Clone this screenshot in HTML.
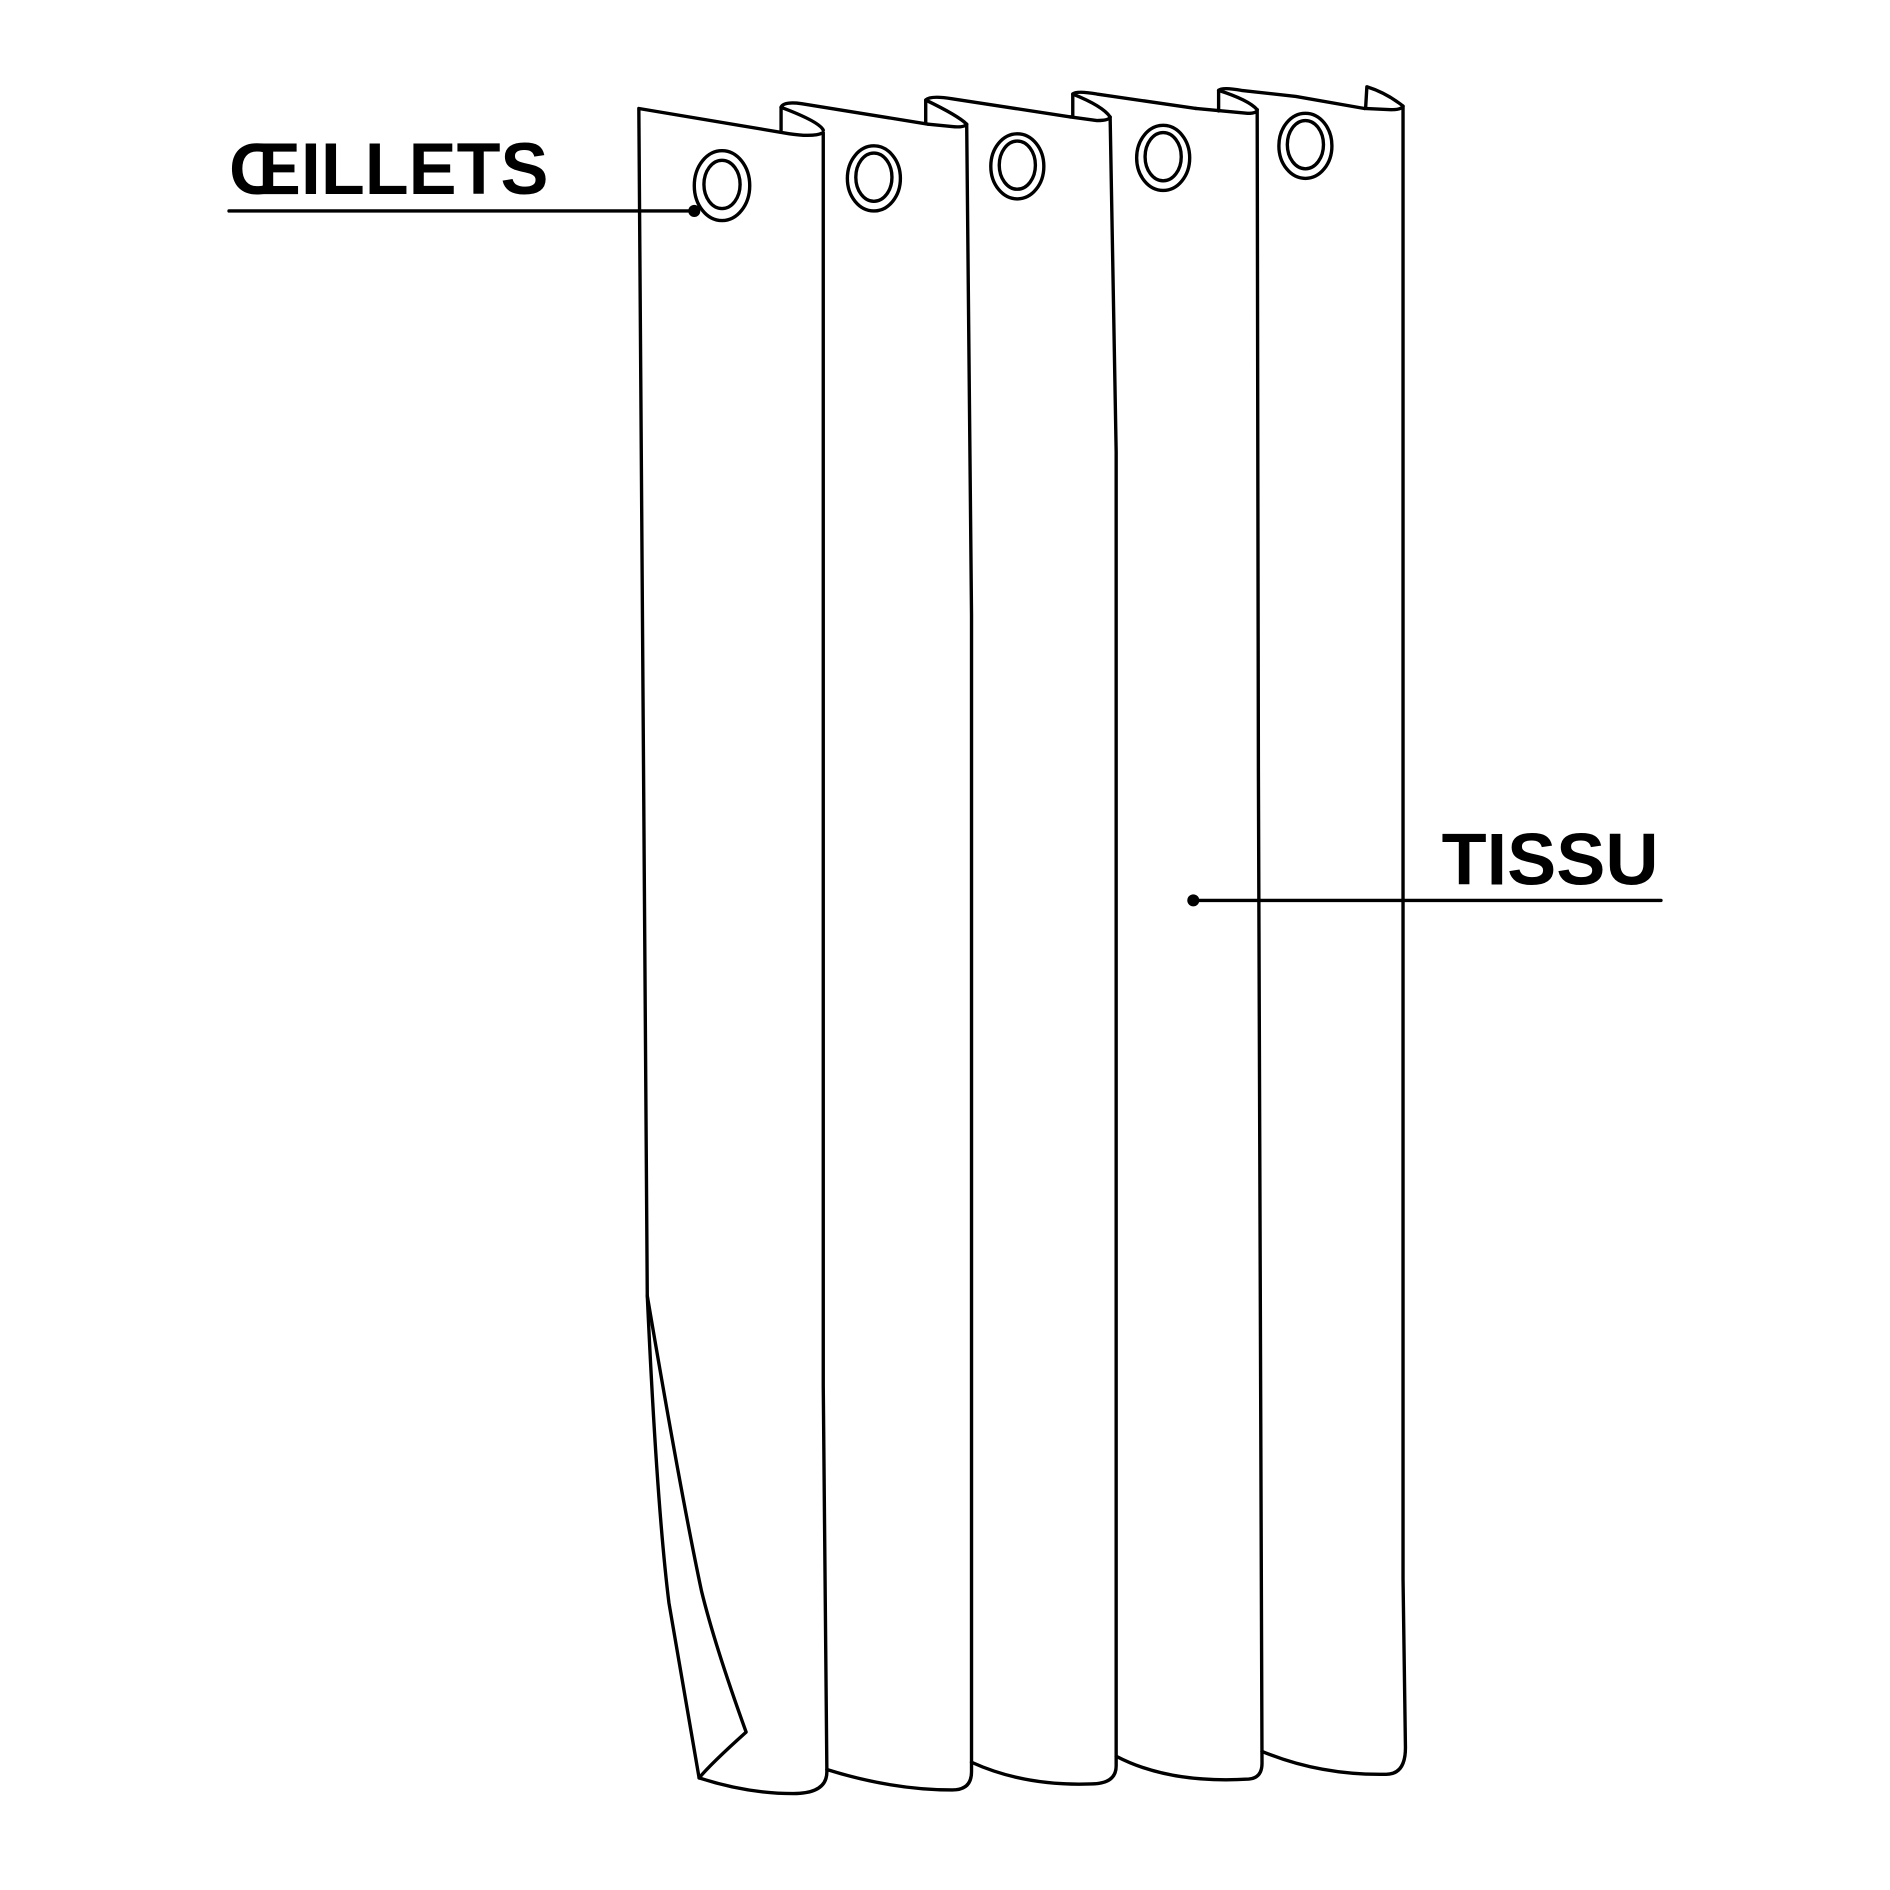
<!DOCTYPE html>
<html><head><style>html,body{margin:0;padding:0;background:#fff}svg{display:block}</style></head>
<body>
<svg width="1890" height="1890" viewBox="0 0 1568 1568" xmlns="http://www.w3.org/2000/svg">
<g fill="none" stroke="#000" stroke-width="2.8" stroke-linejoin="round" stroke-linecap="round">
<path d="M530,90 L655,111 Q675,114 683,110 L683,1150 L686,1470 Q686,1488 658,1488 Q620,1488 580,1475 L555,1330 Q545,1250 537,1075 Z"/>
<path d="M537,1075 Q565,1240 582,1320 Q593,1365 619,1437 Q590,1463 580,1475"/>
<path d="M648,108 L648,89 Q650,84 665,86 L770,103"/>
<path d="M648,89 Q680,101 683,108"/>
<path d="M770,103 L790,105 Q800,106 802,103 L806,510 L806,1470 Q806,1485 790,1485 Q740,1485 686,1468"/>
<path d="M768,102 L768,83 Q772,79 790,82 L888,97"/>
<path d="M768,83 Q795,96 802,103"/>
<path d="M888,97 L910,100 Q920,100 921,97 L926,375 L926,1465 Q926,1480 905,1480 Q850,1482 806,1462"/>
<path d="M890,96 L890,78 Q893,75 910,78 L992,90"/>
<path d="M890,78 Q915,88 921,97"/>
<path d="M992,90 L1035,94 Q1043,94 1043,91 L1044,640 L1047,1463 Q1047,1475 1036,1476 Q970,1480 926,1457"/>
<path d="M1011,92 L1011,75 Q1014,72 1030,75 L1075,80 L1132,90"/>
<path d="M1011,75 Q1036,83 1043,91"/>
<path d="M1132,90 L1154,91 Q1163,91 1164,88 L1164,160 L1164,1310 L1166,1450 Q1166,1472 1150,1472 Q1095,1473 1047,1453"/>
<path d="M1133,89 L1134,72 Q1150,77 1164,88"/>
<ellipse cx="599" cy="154" rx="23" ry="29"/><ellipse cx="599" cy="153" rx="15" ry="20"/>
<ellipse cx="725" cy="148" rx="22" ry="27"/><ellipse cx="725" cy="147" rx="15" ry="20"/>
<ellipse cx="844" cy="138" rx="22" ry="27"/><ellipse cx="844" cy="137" rx="15" ry="20"/>
<ellipse cx="965" cy="131" rx="22" ry="27"/><ellipse cx="965" cy="130" rx="15" ry="20"/>
<ellipse cx="1083" cy="121" rx="22" ry="27"/><ellipse cx="1083" cy="120" rx="15" ry="20"/>
<line x1="190" y1="175" x2="576" y2="175"/>
<line x1="990" y1="747" x2="1378" y2="747"/>
</g>
<circle cx="576" cy="175" r="5"/>
<circle cx="990" cy="747" r="5"/>
<text x="190" y="161" font-family="'Liberation Sans',sans-serif" font-size="61" font-weight="600" textLength="265" lengthAdjust="spacingAndGlyphs">ŒILLETS</text>
<text x="1196" y="734" font-family="'Liberation Sans',sans-serif" font-size="61" font-weight="600" textLength="180" lengthAdjust="spacingAndGlyphs">TISSU</text>
</svg>
</body></html>
